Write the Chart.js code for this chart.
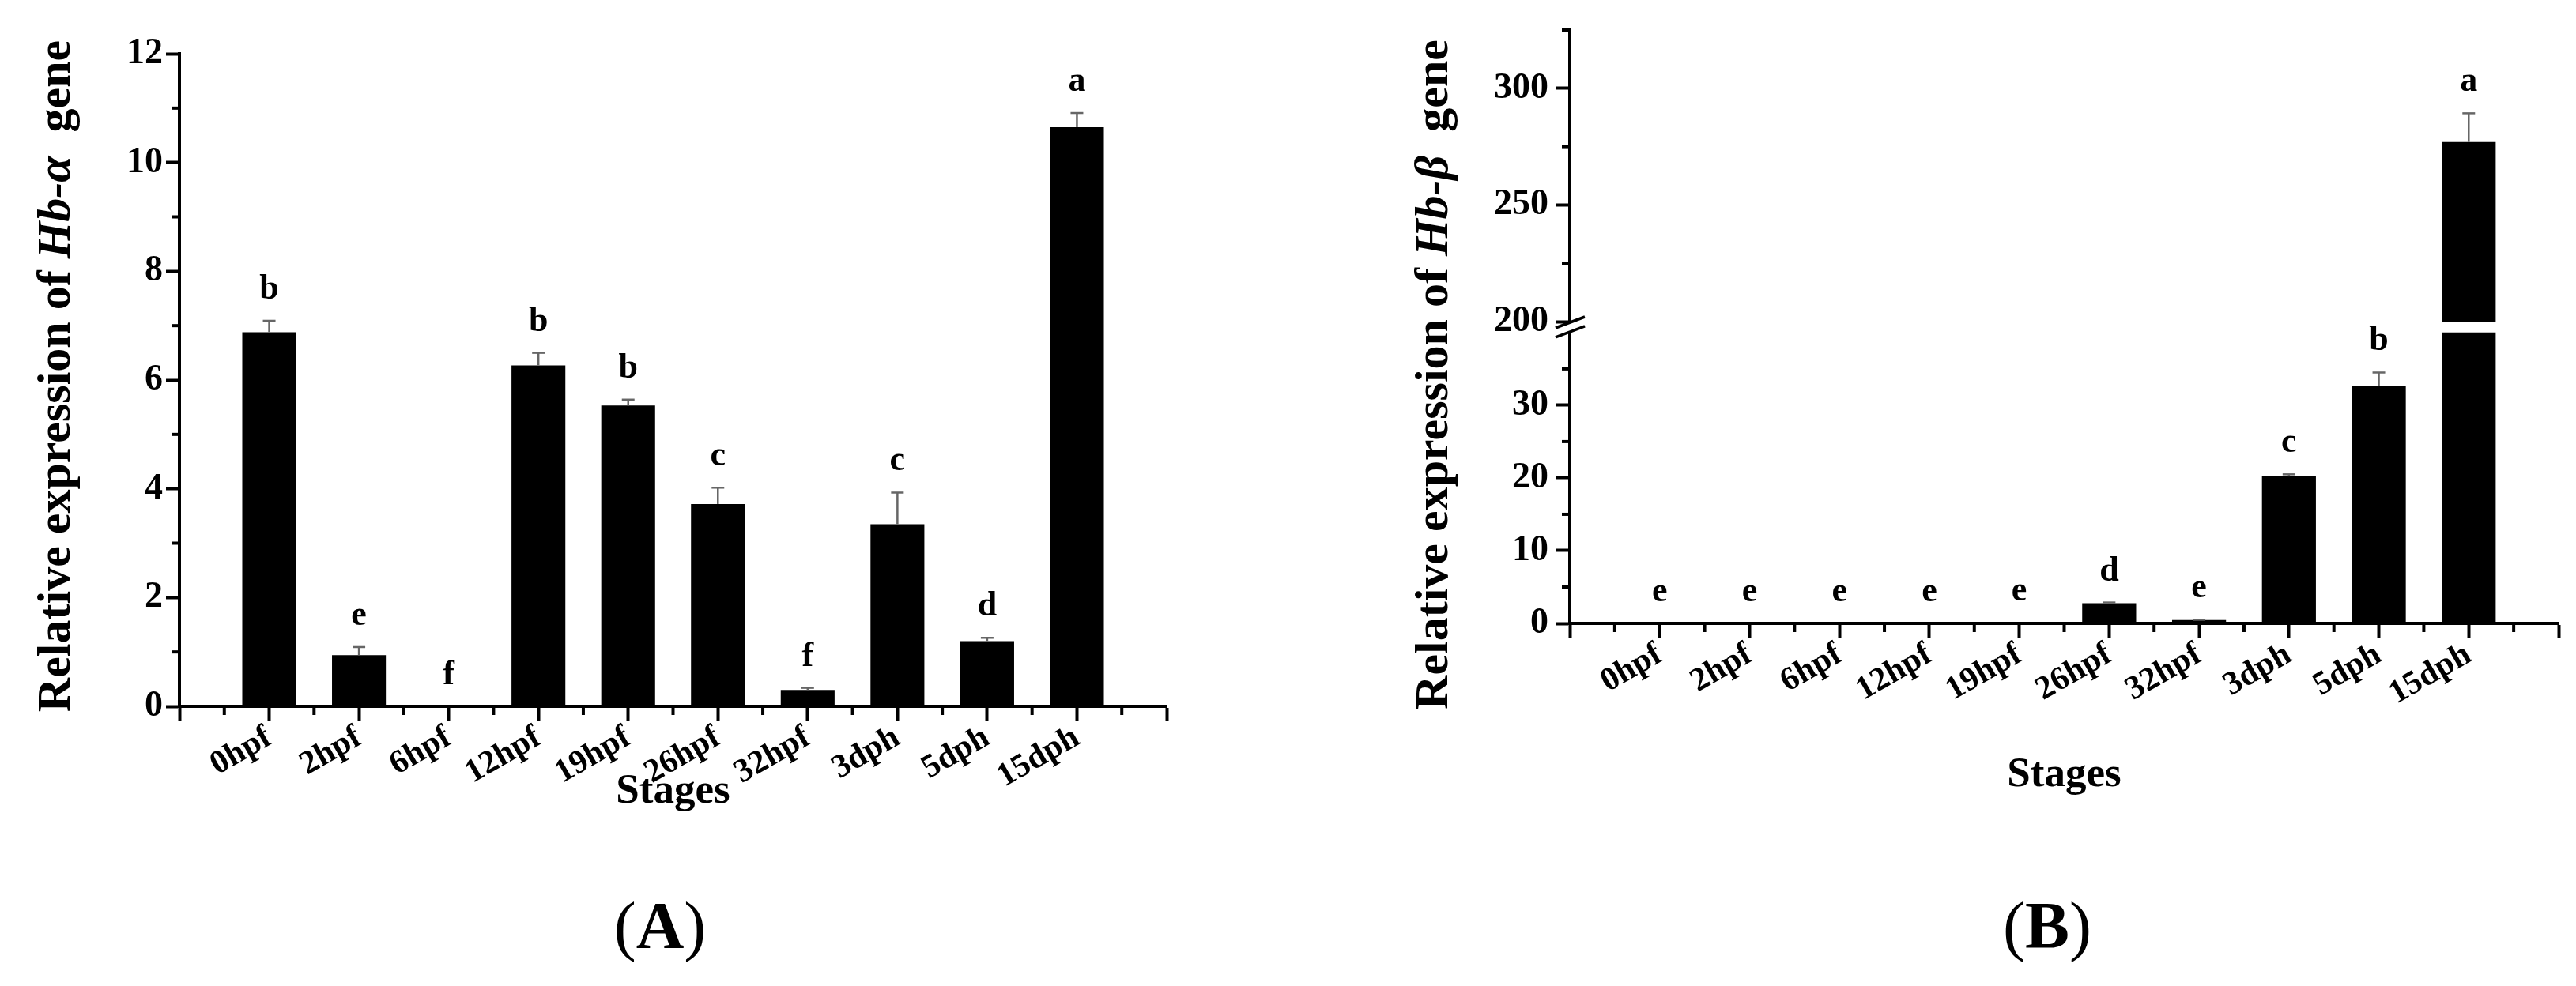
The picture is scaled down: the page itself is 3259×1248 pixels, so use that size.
<!DOCTYPE html>
<html>
<head>
<meta charset="utf-8">
<script src="https://cdn.jsdelivr.net/npm/chart.js@4.4.0/dist/chart.umd.min.js"></script>
<style>
  html, body { margin: 0; padding: 0; background: #fff; }
  body { width: 3259px; height: 1248px; position: relative; overflow: hidden; font-family: "Liberation Serif", "Times New Roman", serif; }
  .box { position: absolute; top: 0; height: 1100px; }
  #boxA { left: 0; width: 1560px; }
  #boxB { left: 1630px; width: 1629px; }
  .panel { position: absolute; top: 1130px; font-size: 84px; line-height: 1; transform: translateX(-50%); white-space: nowrap; }
  #capA { left: 835px; }
  #capB { left: 2590px; }
</style>
</head>
<body>
<div class="box" id="boxA"><canvas id="chartA"></canvas></div>
<div class="box" id="boxB"><canvas id="chartB"></canvas></div>
<div class="panel" id="capA">(<b>A</b>)</div>
<div class="panel" id="capB">(<b>B</b>)</div>
<script>
// etapas de desarrollo
const stages = ['0hpf', '2hpf', '6hpf', '12hpf', '19hpf', '26hpf', '32hpf', '3dph', '5dph', '15dph'];

// Hb-alpha
const hbAlpha = [6.88, 0.94, 0, 6.27, 5.53, 3.72, 0.30, 3.35, 1.20, 10.65];
const hbAlphaErr = [0.21, 0.15, 0, 0.23, 0.11, 0.30, 0.04, 0.58, 0.06, 0.26];
const hbAlphaLetters = ['b', 'e', 'f', 'b', 'b', 'c', 'f', 'c', 'd', 'a'];
const hbAlphaTicks = [0, 2, 4, 6, 8, 10, 12];
const hbAlphaMinor = [1, 3, 5, 7, 9, 11];

// Hb-beta (eje cortado entre 40 y 200)
const hbBeta = [0.02, 0.03, 0.03, 0.05, 0.15, 2.77, 0.45, 20.2, 32.6, 277];
const hbBetaErr = [0, 0, 0, 0, 0, 0.1, 0.05, 0.3, 1.9, 12.3];
const hbBetaLetters = ['e', 'e', 'e', 'e', 'e', 'd', 'e', 'c', 'b', 'a'];
const hbBetaLowTicks = [0, 10, 20, 30];
const hbBetaLowMinor = [5, 15, 25, 35];
const hbBetaHighTicks = [200, 250, 300];
const hbBetaHighMinor = [225, 275, 325];
const breakLow = 40;
const breakHigh = 200;

const FONT = '"Liberation Serif", "Times New Roman", serif';
const xLabels = ['', ...stages, ''];
const pad = arr => [null, ...arr, null];

function line(ctx, x1, y1, x2, y2) {
  ctx.beginPath();
  ctx.moveTo(x1, y1);
  ctx.lineTo(x2, y2);
  ctx.stroke();
}

// ticks menores, barras de error, letras, titulos y corte del eje
const decor = {
  id: 'decor',
  afterDraw(chart, args, o) {
    const ctx = chart.ctx;
    const xs = chart.scales.x;
    const area = chart.chartArea;
    ctx.save();
    ctx.strokeStyle = '#000';
    ctx.fillStyle = '#000';
    ctx.lineWidth = 4;

    for (let i = 0; i < xLabels.length - 1; i++) {
      const px = xs.getPixelForValue(i + 0.5);
      line(ctx, px, area.bottom, px, area.bottom + 11);
    }
    Object.entries(o.yMinor).forEach(([id, vals]) => {
      const s = chart.scales[id];
      vals.forEach(v => {
        const py = s.getPixelForValue(v);
        line(ctx, area.left - 10, py, area.left, py);
      });
    });

    // corte del eje
    if (o.cut) {
      const yHi = chart.scales.yTop.getPixelForValue(breakHigh);
      const yLo = chart.scales.y.getPixelForValue(breakLow);
      ctx.fillStyle = '#fff';
      ctx.fillRect(area.left - 4, yHi + 1, 8, yLo - yHi - 2);
      ctx.fillStyle = '#000';
      ctx.lineWidth = 3.5;
      [yHi + 1, yLo - 1].forEach(yb => line(ctx, area.left - 18, yb + 7, area.left + 19, yb - 7));
    }

    // barras de error y letras
    o.values.forEach((v, i) => {
      const s = (o.cut && v > breakHigh) ? chart.scales.yTop : chart.scales.y;
      const px = xs.getPixelForValue(i + 1);
      const top = s.getPixelForValue(v + o.errors[i]);
      if (o.errors[i] > 0) {
        ctx.strokeStyle = '#666';
        ctx.lineWidth = 2.5;
        line(ctx, px, s.getPixelForValue(v), px, top);
        line(ctx, px - 8, top, px + 8, top);
      }
      ctx.font = 'bold 44px ' + FONT;
      ctx.textAlign = 'center';
      ctx.textBaseline = 'alphabetic';
      ctx.fillText(o.letters[i], px, top - 28);
    });

    // titulo del eje x
    ctx.font = 'bold 53px ' + FONT;
    ctx.textAlign = 'center';
    ctx.textBaseline = 'middle';
    ctx.fillText('Stages', (area.left + area.right) / 2, o.xTitleY);

    // titulo del eje y (con parte en cursiva)
    ctx.translate(o.yTitleX, o.yTitleY);
    ctx.rotate(-Math.PI / 2);
    const fonts = o.yTitle.map(p => (p[1] ? 'italic ' : '') + 'bold ' + o.yTitleSize + 'px ' + FONT);
    let total = 0;
    const widths = o.yTitle.map((p, i) => {
      ctx.font = fonts[i];
      const w = ctx.measureText(p[0]).width;
      total += w;
      return w;
    });
    let x = -total / 2;
    ctx.textAlign = 'left';
    o.yTitle.forEach((p, i) => {
      ctx.font = fonts[i];
      ctx.fillText(p[0], x, 0);
      x += widths[i];
    });
    ctx.restore();
  }
};

const tickFont = { family: FONT, size: 46, weight: 'bold' };
const axisBorder = { display: true, color: '#000', width: 4 };
const xScale = h => ({
  offset: false,
  grid: { offset: false, drawOnChartArea: false, drawTicks: true, tickLength: 19, tickWidth: 4, color: '#000' },
  border: axisBorder,
  ticks: { autoSkip: false, maxRotation: 30, minRotation: 30, color: '#000', padding: -4, font: { family: FONT, size: 42, weight: 'bold' } },
  afterFit: s => { s.height = h; }
});
const yGrid = { drawOnChartArea: false, drawTicks: true, tickLength: 17, tickWidth: 4, color: '#000' };

// grafica A
new Chart(document.getElementById('chartA'), {
  type: 'bar',
  data: {
    labels: xLabels,
    datasets: [{
      data: pad(hbAlpha),
      backgroundColor: '#000',
      borderWidth: 0,
      categoryPercentage: 1,
      barPercentage: 0.6
    }]
  },
  options: {
    responsive: true,
    maintainAspectRatio: false,
    animation: false,
    events: [],
    layout: { padding: { left: 0, top: 68, right: 84, bottom: 0 } },
    plugins: {
      legend: { display: false },
      tooltip: { enabled: false },
      decor: {
        values: hbAlpha, errors: hbAlphaErr, letters: hbAlphaLetters,
        yMinor: { y: hbAlphaMinor },
        xTitleY: 1002,
        yTitle: [['Relative expression of ', false], ['Hb-α', true], ['  gene', false]],
        yTitleX: 72, yTitleY: 476, yTitleSize: 60
      }
    },
    scales: {
      x: xScale(1100 - 894),
      y: {
        min: 0, max: 12,
        afterBuildTicks: s => { s.ticks = hbAlphaTicks.map(v => ({ value: v })); },
        grid: yGrid,
        border: axisBorder,
        ticks: { color: '#000', padding: 4, font: tickFont },
        afterFit: s => { s.width = 227; }
      }
    }
  },
  plugins: [decor]
});

// grafica B
new Chart(document.getElementById('chartB'), {
  type: 'bar',
  data: {
    labels: xLabels,
    datasets: [{
      data: pad(hbBeta.map(v => Math.min(v, breakLow))),
      yAxisID: 'y',
      backgroundColor: '#000',
      borderWidth: 0,
      grouped: false,
      categoryPercentage: 1,
      barPercentage: 0.6
    }, {
      data: pad(hbBeta.map(v => v > breakHigh ? [breakHigh, v] : null)),
      yAxisID: 'yTop',
      backgroundColor: '#000',
      borderWidth: 0,
      grouped: false,
      categoryPercentage: 1,
      barPercentage: 0.6
    }]
  },
  options: {
    responsive: true,
    maintainAspectRatio: false,
    animation: false,
    events: [],
    layout: { padding: { left: 0, top: 38, right: 22, bottom: 0 } },
    plugins: {
      legend: { display: false },
      tooltip: { enabled: false },
      decor: {
        values: hbBeta, errors: hbBetaErr, letters: hbBetaLetters, cut: true,
        yMinor: { y: hbBetaLowMinor, yTop: hbBetaHighMinor },
        xTitleY: 981,
        yTitle: [['Relative expression of ', false], ['Hb-β', true], ['  gene', false]],
        yTitleX: 185, yTitleY: 474, yTitleSize: 60
      }
    },
    scales: {
      x: xScale(1100 - 789),
      y: {
        min: 0, max: 40.8,
        stack: 'beta', stackWeight: 1,
        afterBuildTicks: s => { s.ticks = hbBetaLowTicks.map(v => ({ value: v })); },
        grid: yGrid,
        border: axisBorder,
        ticks: { color: '#000', padding: 10, font: tickFont },
        afterFit: s => { s.width = 356; }
      },
      yTop: {
        position: 'left',
        min: 197.8, max: 325,
        stack: 'beta', stackWeight: 1,
        afterBuildTicks: s => { s.ticks = hbBetaHighTicks.map(v => ({ value: v })); },
        grid: yGrid,
        border: axisBorder,
        ticks: { color: '#000', padding: 10, font: tickFont },
        afterFit: s => { s.width = 356; }
      }
    }
  },
  plugins: [decor]
});
</script>
</body>
</html>
